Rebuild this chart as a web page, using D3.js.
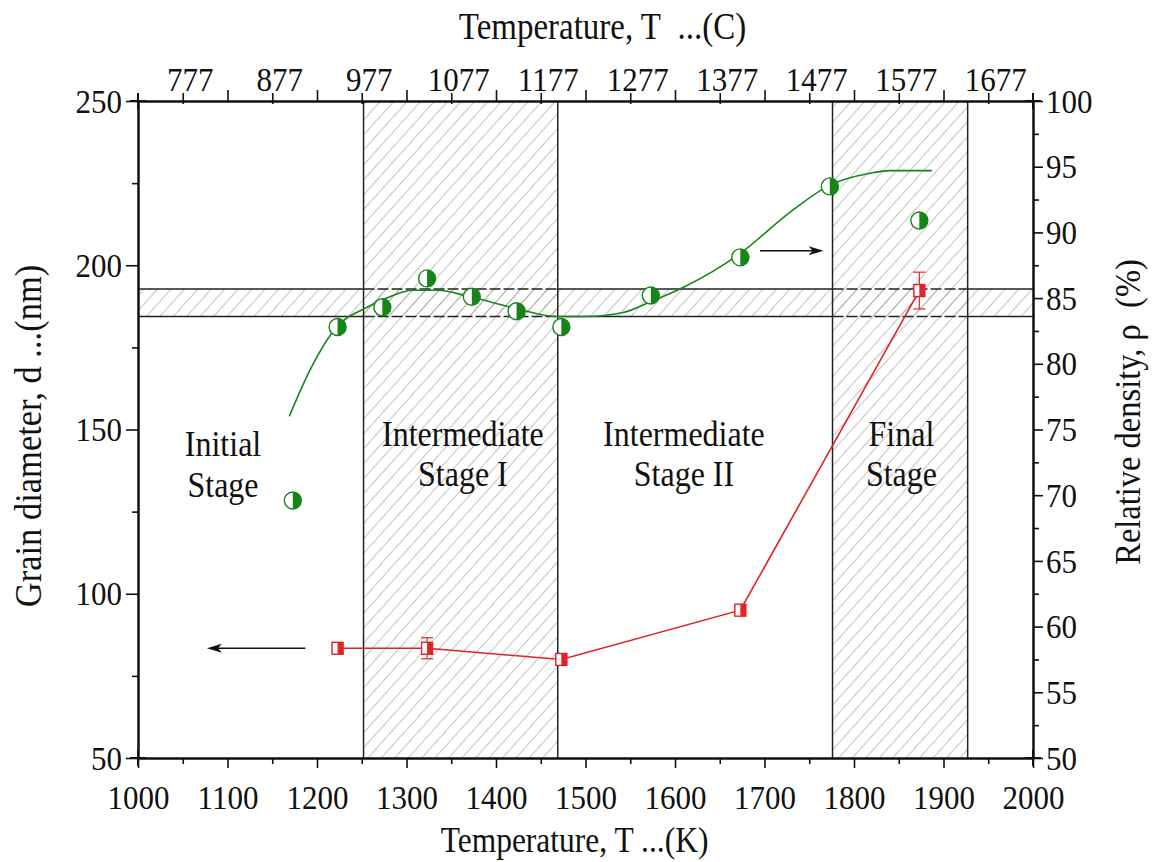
<!DOCTYPE html>
<html>
<head>
<meta charset="utf-8">
<script src="https://cdn.jsdelivr.net/npm/d3@7"></script>
<style>
  body { margin: 0; background: #fff; }
  svg text { font-family: "Liberation Serif", "Times New Roman", serif; fill: #111; }
</style>
</head>
<body>
<div class="chart"></div>
<script>
// relative density (right axis), half-filled green circles
const densityT = [1173, 1223, 1273, 1323, 1373, 1423, 1473, 1573, 1673, 1773, 1873];
const densityVal = [69.6, 82.8, 84.3, 86.5, 85.1, 84.0, 82.8, 85.2, 88.1, 93.5, 90.9];

// fitted trend for density
const fitT = [1169, 1192, 1222, 1256, 1278, 1307, 1334, 1371, 1423, 1468, 1500, 1542, 1572, 1609, 1673, 1728, 1773, 1818, 1840, 1887];
const fitVal = [76.0, 79.5, 82.8, 84.3, 85.0, 85.6, 85.6, 85.1, 84.2, 83.6, 83.6, 83.9, 84.7, 85.8, 88.4, 91.5, 93.6, 94.5, 94.7, 94.7];

// grain diameter (left axis), red squares with error bars
const grainT = [1223, 1323, 1473, 1673, 1873];
const grainVal = [83.4, 83.4, 80.0, 95.0, 192.3];
const grainErr = [1.2, 3.2, 0.8, 1.5, 5.6];

// stage bands (K) and the horizontal density band (%)
const stageBands = [[1252, 1469], [1776, 1927]];
const densityBand = [83.6, 85.7];

const stageNames = [["Initial", "Stage"], ["Intermediate", "Stage I"], ["Intermediate", "Stage II"], ["Final", "Stage"]];
const stageT = [1095, 1363, 1610, 1853];

const bottomTicks = [1000, 1100, 1200, 1300, 1400, 1500, 1600, 1700, 1800, 1900, 2000];
const topTicks = [777, 877, 977, 1077, 1177, 1277, 1377, 1477, 1577, 1677];
const leftTicks = [50, 100, 150, 200, 250];
const rightTicks = [50, 55, 60, 65, 70, 75, 80, 85, 90, 95, 100];

const width = 1153, height = 862;
const L = 138, R = 1033, T = 101, B = 758;
const SY = 1.12;  // the source text is a little taller than Times
const green = "#17841a", red = "#e22326";

const svg = d3.select(".chart").append("svg")
  .attr("width", width).attr("height", height);

const x = d3.scaleLinear().domain([1000, 2000]).range([L, R]);
const xC = d3.scaleLinear().domain([1000 - 273, 2000 - 273]).range([L, R]);
const yL = d3.scaleLinear().domain([50, 250]).range([B, T]);
const yR = d3.scaleLinear().domain([50, 100]).range([B, T]);

// hatch pattern
const defs = svg.append("defs");
defs.append("pattern")
  .attr("id", "hatch").attr("patternUnits", "userSpaceOnUse")
  .attr("width", 10).attr("height", 10)
  .attr("patternTransform", "rotate(42)")
  .append("line")
  .attr("x1", 0).attr("y1", 0).attr("x2", 0).attr("y2", 10)
  .attr("stroke", "#9a9a9a").attr("stroke-width", 1.2);

// bands
stageBands.forEach(b => {
  svg.append("rect")
    .attr("x", x(b[0])).attr("y", T)
    .attr("width", x(b[1]) - x(b[0])).attr("height", B - T)
    .attr("fill", "url(#hatch)");
});
svg.append("rect")
  .attr("x", L).attr("y", yR(densityBand[1]))
  .attr("width", R - L).attr("height", yR(densityBand[0]) - yR(densityBand[1]))
  .attr("fill", "url(#hatch)");

// band borders
stageBands.forEach(b => {
  b.forEach(v => {
    svg.append("line")
      .attr("x1", x(v)).attr("x2", x(v)).attr("y1", T).attr("y2", B)
      .attr("stroke", "#222").attr("stroke-width", 1.5);
  });
});
// horizontal borders: solid outside the stage bands, broken inside them
const cuts = [1000, ...stageBands.flat(), 2000];
densityBand.forEach(v => {
  for (let i = 0; i < cuts.length - 1; i++) {
    svg.append("line")
      .attr("x1", x(cuts[i])).attr("x2", x(cuts[i + 1]))
      .attr("y1", yR(v)).attr("y2", yR(v))
      .attr("stroke", "#222").attr("stroke-width", 1.5)
      .attr("stroke-dasharray", i % 2 ? "11,3" : null);
  }
});

// axes
const styleAxis = (g) => {
  g.select(".domain").attr("stroke", "#111").attr("stroke-width", 2);
  g.selectAll(".tick line").attr("stroke", "#111").attr("stroke-width", 1.6);
  g.selectAll("text").attr("font-size", 31).attr("fill", "#111");
};

const xBottom = svg.append("g").attr("transform", `translate(0,${B})`)
  .call(d3.axisBottom(x).tickValues(bottomTicks).tickFormat(d3.format("d")).tickSize(10).tickSizeOuter(0))
  .call(styleAxis);
xBottom.selectAll("text").attr("y", 26 / SY).attr("dy", "0.71em").attr("transform", `scale(1,${SY})`);
svg.append("g").attr("transform", `translate(0,${B})`)
  .call(d3.axisBottom(x).tickValues(d3.range(1050, 2000, 100)).tickFormat("").tickSize(6).tickSizeOuter(0))
  .call(styleAxis);

const xTop = svg.append("g").attr("transform", `translate(0,${T})`)
  .call(d3.axisTop(xC).tickValues(topTicks).tickFormat(d3.format("d")).tickSize(8).tickSizeOuter(0))
  .call(styleAxis);
xTop.selectAll(".tick line").attr("y1", 3);
xTop.selectAll("text").attr("x", 7).attr("y", -10 / SY).attr("transform", `scale(1,${SY})`);
svg.append("g").attr("transform", `translate(0,${T})`)
  .call(d3.axisTop(x).tickValues(d3.range(1100, 2000, 100)).tickFormat("").tickSize(11).tickSizeOuter(0))
  .call(styleAxis);

const yLeft = svg.append("g").attr("transform", `translate(${L},0)`)
  .call(d3.axisLeft(yL).tickValues(leftTicks).tickSize(12).tickSizeOuter(0))
  .call(styleAxis);
yLeft.selectAll("text").attr("x", -16).attr("transform", `scale(1,${SY})`);
svg.append("g").attr("transform", `translate(${L},0)`)
  .call(d3.axisLeft(yL).tickValues([75, 125, 175, 225]).tickFormat("").tickSize(6).tickSizeOuter(0))
  .call(styleAxis);

const yRight = svg.append("g").attr("transform", `translate(${R},0)`)
  .call(d3.axisRight(yR).tickValues(rightTicks).tickSize(10).tickSizeOuter(0))
  .call(styleAxis);
yRight.selectAll("text").attr("x", 13).attr("transform", `scale(1,${SY})`);
svg.append("g").attr("transform", `translate(${R},0)`)
  .call(d3.axisRight(yR).tickValues(d3.range(52.5, 100, 5)).tickFormat("").tickSize(6).tickSizeOuter(0))
  .call(styleAxis);

// corner crosses where the frame lines run a bit past each other
[[L, T], [R, T], [L, B], [R, B]].forEach(([cx, cy]) => {
  svg.append("line").attr("x1", cx - 8).attr("x2", cx + 8).attr("y1", cy).attr("y2", cy)
    .attr("stroke", "#111").attr("stroke-width", 2);
  svg.append("line").attr("x1", cx).attr("x2", cx).attr("y1", cy - 8).attr("y2", cy + 8)
    .attr("stroke", "#111").attr("stroke-width", 2);
});

// stretched text helper
const label = (px, py, str, size, anchor, rot) => {
  const g = svg.append("g")
    .attr("transform", `translate(${px},${py}) rotate(${rot || 0}) scale(1,${SY})`);
  g.append("text").attr("text-anchor", anchor || "middle")
    .attr("font-size", size).text(str);
};

label((L + R) / 2 - 11, 852, "Temperature, T ...(K)", 31.5);
label((L + R) / 2 + 17, 39, "Temperature, T\u00a0\u00a0...(C)", 33);
label(41, 436, "Grain diameter, d ...(nm)", 34.5, "middle", -90);
label(1140, 412, "Relative density, \u03c1\u00a0\u00a0(%)", 32.5, "middle", -90);

// stage names
stageNames.forEach((lines, i) => {
  const yy = i === 0 ? [456, 497] : [446, 486];
  lines.forEach((s, j) => label(x(stageT[i]), yy[j], s, 32));
});

// density fit line
svg.append("path")
  .datum(fitT.map((t, i) => [t, fitVal[i]]))
  .attr("fill", "none").attr("stroke", green).attr("stroke-width", 1.6)
  .attr("d", d3.line().x(d => x(d[0])).y(d => yR(d[1])).curve(d3.curveMonotoneX));

// density markers: left half open, right half filled
const dens = svg.append("g").selectAll("g")
  .data(densityT.map((t, i) => [t, densityVal[i]]))
  .join("g")
  .attr("transform", d => `translate(${x(d[0])},${yR(d[1])})`);
const r = 8.5;
dens.append("circle").attr("r", r).attr("fill", "#fff").attr("stroke", green).attr("stroke-width", 1.4);
dens.append("path")
  .attr("d", d3.arc()({ innerRadius: 0, outerRadius: r, startAngle: 0, endAngle: Math.PI }))
  .attr("fill", green);

// grain diameter line
const gd = grainT.map((t, i) => [t, grainVal[i], grainErr[i]]);
svg.append("path")
  .datum(gd)
  .attr("fill", "none").attr("stroke", red).attr("stroke-width", 1.6)
  .attr("d", d3.line().x(d => x(d[0])).y(d => yL(d[1])));

const eb = svg.append("g").selectAll("g").data(gd).join("g")
  .attr("transform", d => `translate(${x(d[0])},0)`)
  .attr("stroke", red).attr("stroke-width", 1.2);
eb.append("line").attr("y1", d => yL(d[1] + d[2])).attr("y2", d => yL(d[1] - d[2]));
eb.append("line").attr("x1", -6).attr("x2", 6).attr("y1", d => yL(d[1] + d[2])).attr("y2", d => yL(d[1] + d[2]));
eb.append("line").attr("x1", -6).attr("x2", 6).attr("y1", d => yL(d[1] - d[2])).attr("y2", d => yL(d[1] - d[2]));

const sq = svg.append("g").selectAll("g").data(gd).join("g")
  .attr("transform", d => `translate(${x(d[0])},${yL(d[1])})`);
sq.append("rect").attr("x", -5.5).attr("y", -6).attr("width", 11).attr("height", 12)
  .attr("fill", "#fff").attr("stroke", red).attr("stroke-width", 1.4);
sq.append("rect").attr("x", 0).attr("y", -6).attr("width", 5.5).attr("height", 12)
  .attr("fill", red);

// arrows pointing to each series' axis
const arrows = [
  { from: [1187, 83.4], to: [1077, 83.4], scale: yL },
  { from: [1695, 88.6], to: [1766, 88.6], scale: yR }
];
arrows.forEach(a => {
  const x1 = x(a.from[0]), x2 = x(a.to[0]), yy = a.scale(a.from[1]);
  const dir = Math.sign(x2 - x1);
  svg.append("line").attr("x1", x1).attr("x2", x2 - dir * 8).attr("y1", yy).attr("y2", yy)
    .attr("stroke", "#111").attr("stroke-width", 1.6);
  svg.append("path")
    .attr("d", `M${x2},${yy} L${x2 - dir * 15},${yy - 4.5} L${x2 - dir * 11},${yy} L${x2 - dir * 15},${yy + 4.5} Z`)
    .attr("fill", "#111");
});
</script>
</body>
</html>
